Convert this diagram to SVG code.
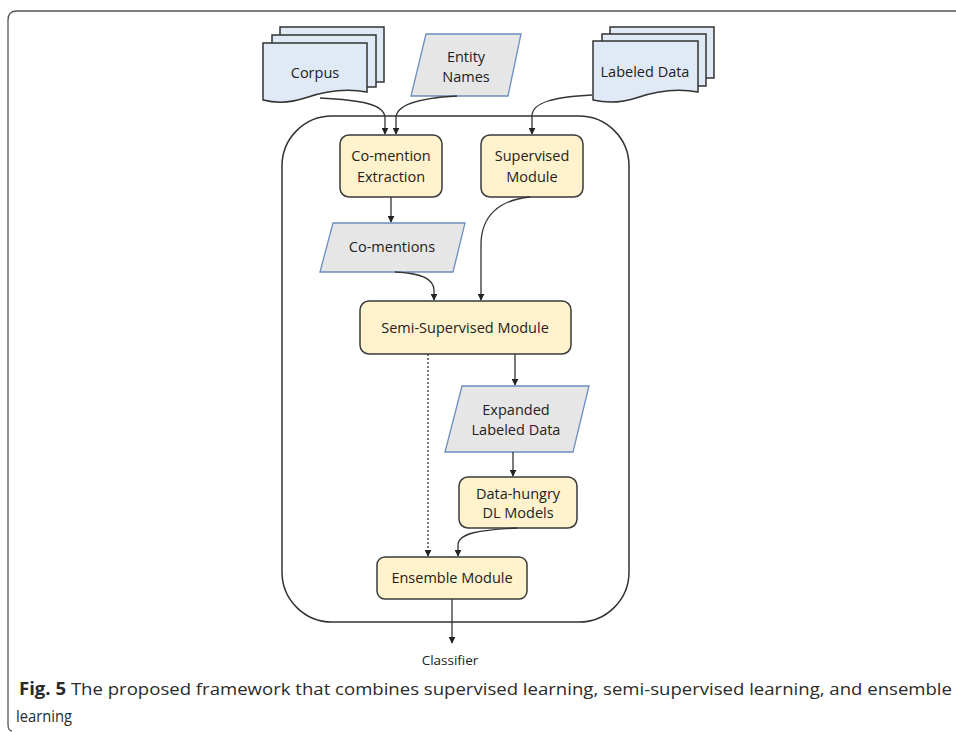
<svg xmlns="http://www.w3.org/2000/svg" width="956" height="732" viewBox="0 0 956 732">
<defs>
<style>
.proc{fill:#fff2cc;stroke:#3a3a3a;stroke-width:1.5}
.data{fill:#e6e6e6;stroke:#6c8ebf;stroke-width:1.3}
.doc{fill:#dfeaf6;stroke:#333;stroke-width:1.5}
.t{font-family:"Open Sans","Liberation Sans",sans-serif;font-size:14.5px;fill:#222;text-anchor:middle}
.c{fill:none;stroke:#333;stroke-width:1.3}
.cap{font-family:"Open Sans","Liberation Sans",sans-serif;font-size:17px;fill:#2a2a2a}
</style>
<marker id="ah" viewBox="0 0 10 10" refX="9" refY="5" markerWidth="7" markerHeight="7" markerUnits="userSpaceOnUse" orient="auto">
<path d="M0,0 L10,5 L0,10 Z" fill="#222"/>
</marker>
</defs>
<rect width="956" height="732" fill="#fff"/>
<path d="M12,731 Q8,731 8,724 V20 Q8,11 17,11 H956" fill="none" stroke="#555" stroke-width="1.3"/>
<rect id="container" x="282" y="116" width="347" height="506" rx="50" fill="none" stroke="#333" stroke-width="1.5"/>

<g id="corpus">
<rect class="doc" x="280" y="27" width="104" height="55"/>
<rect class="doc" x="272" y="35" width="104" height="52"/>
<path class="doc" d="M263,43 H367 V92 C345,88 325,91 305,98 C290,103 275,103 263,100 Z"/>
<text class="t" x="315" y="78">Corpus</text>
</g>
<g id="entity-names">
<polygon class="data" points="426,34 521,34 508,96 411,96"/>
<text class="t" x="466" y="62">Entity</text>
<text class="t" x="466" y="82">Names</text>
</g>
<g id="labeled-data">
<rect class="doc" x="610" y="27" width="104" height="51"/>
<rect class="doc" x="602" y="34" width="104" height="52"/>
<path class="doc" d="M593,41 H698 V92 C676,88 656,91 636,98 C621,103 606,103 593,100 Z"/>
<text class="t" x="645" y="77">Labeled Data</text>
</g>
<g id="co-mention-extraction">
<rect class="proc" x="340" y="135" width="102" height="62" rx="9"/>
<text class="t" x="391" y="161">Co-mention</text>
<text class="t" x="391" y="182">Extraction</text>
</g>
<g id="supervised-module">
<rect class="proc" x="481" y="135" width="102" height="62" rx="9"/>
<text class="t" x="532" y="161">Supervised</text>
<text class="t" x="532" y="182">Module</text>
</g>
<g id="co-mentions">
<polygon class="data" points="333,223 465,223 453,272 320,272"/>
<text class="t" x="392" y="252">Co-mentions</text>
</g>
<g id="semi-supervised-module">
<rect class="proc" x="360" y="301" width="211" height="53" rx="9"/>
<text class="t" x="465" y="333">Semi-Supervised Module</text>
</g>
<g id="expanded-labeled-data">
<polygon class="data" points="462,386 589,386 573,452 445,452"/>
<text class="t" x="516" y="415">Expanded</text>
<text class="t" x="516" y="435">Labeled Data</text>
</g>
<g id="dl-models">
<rect class="proc" x="459" y="477" width="118" height="51" rx="9"/>
<text class="t" x="518" y="499">Data-hungry</text>
<text class="t" x="518" y="518">DL Models</text>
</g>
<g id="ensemble-module">
<rect class="proc" x="377" y="557" width="150" height="42" rx="8"/>
<text class="t" x="452" y="583">Ensemble Module</text>
</g>
<g id="classifier">
<text class="t" x="450" y="665" style="font-size:13.5px">Classifier</text>
</g>

<g id="connectors">
<path class="c" marker-end="url(#ah)" d="M320,98 C360,100 385,104 385,118 V134"/>
<path class="c" marker-end="url(#ah)" d="M457,96 C420,98 396,104 396,118 V134"/>
<path class="c" marker-end="url(#ah)" d="M592,95 C555,97 532,102 532,116 V134"/>
<path class="c" marker-end="url(#ah)" d="M391,197 V222"/>
<path class="c" marker-end="url(#ah)" d="M395,272 C420,273 434,278 434,290 V300"/>
<path class="c" marker-end="url(#ah)" d="M530,197 C500,200 481,215 481,245 V300"/>
<path class="c" marker-end="url(#ah)" d="M515,354 V385"/>
<path class="c" marker-end="url(#ah)" d="M513,452 V476"/>
<path class="c" marker-end="url(#ah)" d="M517,528 C480,530 458,533 458,545 V556"/>
<path class="c" marker-end="url(#ah)" d="M428,354 V556" stroke-dasharray="2,2"/>
<path class="c" marker-end="url(#ah)" d="M452,599 V643"/>
</g>

<text class="cap" x="19" y="695" textLength="933" lengthAdjust="spacingAndGlyphs"><tspan font-weight="bold">Fig. 5</tspan>  The proposed framework that combines supervised learning, semi-supervised learning, and ensemble</text>
<text class="cap" x="16" y="722" textLength="56" lengthAdjust="spacingAndGlyphs">learning</text>
</svg>
